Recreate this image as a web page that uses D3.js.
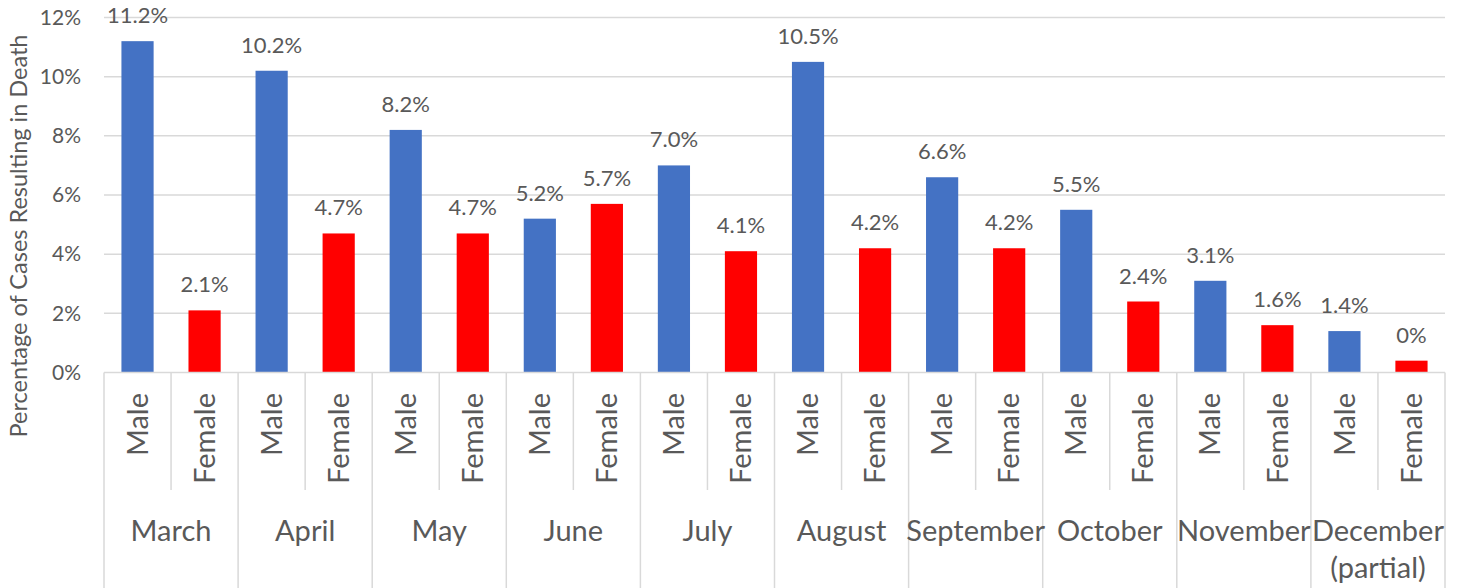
<!DOCTYPE html>
<html>
<head>
<meta charset="utf-8">
<script src="https://cdn.jsdelivr.net/npm/d3@7"></script>
<style>
  html, body { margin: 0; padding: 0; background: #fff; }
  svg { display: block; font-family: Lato, "Open Sans", sans-serif; }
</style>
</head>
<body>
<svg id="chart" width="1463" height="588"></svg>
<script>
const months = ["March", "April", "May", "June", "July", "August", "September", "October", "November", "December (partial)"];
const genders = ["Male", "Female"];
const maleValues = [11.2, 10.2, 8.2, 5.2, 7.0, 10.5, 6.6, 5.5, 3.1, 1.4];
const femaleValues = [2.1, 4.7, 4.7, 5.7, 4.1, 4.2, 4.2, 2.4, 1.6, 0.4];
const maleLabels = ["11.2%", "10.2%", "8.2%", "5.2%", "7.0%", "10.5%", "6.6%", "5.5%", "3.1%", "1.4%"];
const femaleLabels = ["2.1%", "4.7%", "4.7%", "5.7%", "4.1%", "4.2%", "4.2%", "2.4%", "1.6%", "0%"];
const yTicks = [0, 2, 4, 6, 8, 10, 12];
const yTitle = "Percentage of Cases Resulting in Death";
const colors = { Male: "#4472C4", Female: "#FF0000" };

const svg = d3.select("#chart");
const plotLeft = 104, plotRight = 1445, plotTop = 17.5, plotBottom = 372.5;
const textColor = "#595959", lineColor = "#d9d9d9";

const x0 = d3.scaleBand().domain(months).range([plotLeft, plotRight]).padding(0);
const x1 = d3.scaleBand().domain(genders).range([0, x0.bandwidth()]).paddingInner(0.52).paddingOuter(0.26);
const y = d3.scaleLinear().domain([0, 12]).range([plotBottom, plotTop]);

// gridlines
svg.append("g").selectAll("line").data(yTicks.filter(d => d > 0)).join("line")
  .attr("x1", plotLeft).attr("x2", plotRight)
  .attr("y1", d => y(d)).attr("y2", d => y(d))
  .attr("stroke", lineColor).attr("stroke-width", 1.5);

// y axis labels
const yAxis = d3.axisLeft(y).tickValues(yTicks).tickFormat(d => d + "%").tickSize(0).tickPadding(23);
const gy = svg.append("g").attr("transform", `translate(${plotLeft},0)`).call(yAxis);
gy.select(".domain").remove();
gy.selectAll("text").attr("fill", textColor).style("font-size", "21px").style("font-family", "Lato, sans-serif");

// y title
svg.append("text")
  .attr("transform", `translate(27,236) rotate(-90)`)
  .attr("text-anchor", "middle")
  .attr("fill", textColor).style("font-size", "23.5px")
  .text(yTitle);

// rows
const rows = [];
months.forEach((m, i) => {
  rows.push({ month: m, gender: "Male", value: maleValues[i], label: maleLabels[i] });
  rows.push({ month: m, gender: "Female", value: femaleValues[i], label: femaleLabels[i] });
});

// bars
svg.append("g").selectAll("rect").data(rows).join("rect")
  .attr("x", d => x0(d.month) + x1(d.gender))
  .attr("width", x1.bandwidth())
  .attr("y", d => y(d.value))
  .attr("height", d => y(0) - y(d.value))
  .attr("fill", d => colors[d.gender]);

// data labels
svg.append("g").selectAll("text").data(rows).join("text")
  .attr("x", d => x0(d.month) + x1(d.gender) + x1.bandwidth() / 2)
  .attr("y", d => y(d.value) - 18)
  .attr("text-anchor", "middle")
  .attr("fill", textColor).style("font-size", "22px")
  .text(d => d.label);

// category axis line
svg.append("line").attr("x1", plotLeft).attr("x2", plotRight).attr("y1", plotBottom).attr("y2", plotBottom)
  .attr("stroke", lineColor).attr("stroke-width", 1.5);

// group separators
const groupEdges = months.map(m => x0(m)).concat([plotRight]);
svg.append("g").selectAll("line").data(groupEdges).join("line")
  .attr("x1", d => d).attr("x2", d => d).attr("y1", plotBottom).attr("y2", 588)
  .attr("stroke", lineColor).attr("stroke-width", 1.5);

// sub separators
svg.append("g").selectAll("line").data(months).join("line")
  .attr("x1", d => x0(d) + x0.bandwidth() / 2).attr("x2", d => x0(d) + x0.bandwidth() / 2)
  .attr("y1", plotBottom).attr("y2", 490)
  .attr("stroke", lineColor).attr("stroke-width", 1.5);

// gender labels
svg.append("g").selectAll("text").data(rows).join("text")
  .attr("transform", d => `translate(${x0(d.month) + x0.bandwidth() / 4 * (d.gender === "Male" ? 1 : 3)},393) rotate(-90)`)
  .attr("text-anchor", "end")
  .attr("dy", "0.35em")
  .attr("fill", textColor).style("font-size", "29px")
  .text(d => d.gender);

// month labels
const monthText = svg.append("g").selectAll("text").data(months).join("text")
  .attr("x", d => x0(d) + x0.bandwidth() / 2)
  .attr("y", 541)
  .attr("text-anchor", "middle")
  .attr("fill", textColor).style("font-size", "29px");
monthText.each(function(d) {
  const parts = d.indexOf("(") > 0 ? [d.slice(0, d.indexOf("(")).trim(), d.slice(d.indexOf("("))] : [d];
  const t = d3.select(this);
  parts.forEach((p, i) => {
    t.append("tspan").attr("x", x0(d) + x0.bandwidth() / 2).attr("dy", i === 0 ? 0 : 37).text(p);
  });
});
</script>
</body>
</html>
